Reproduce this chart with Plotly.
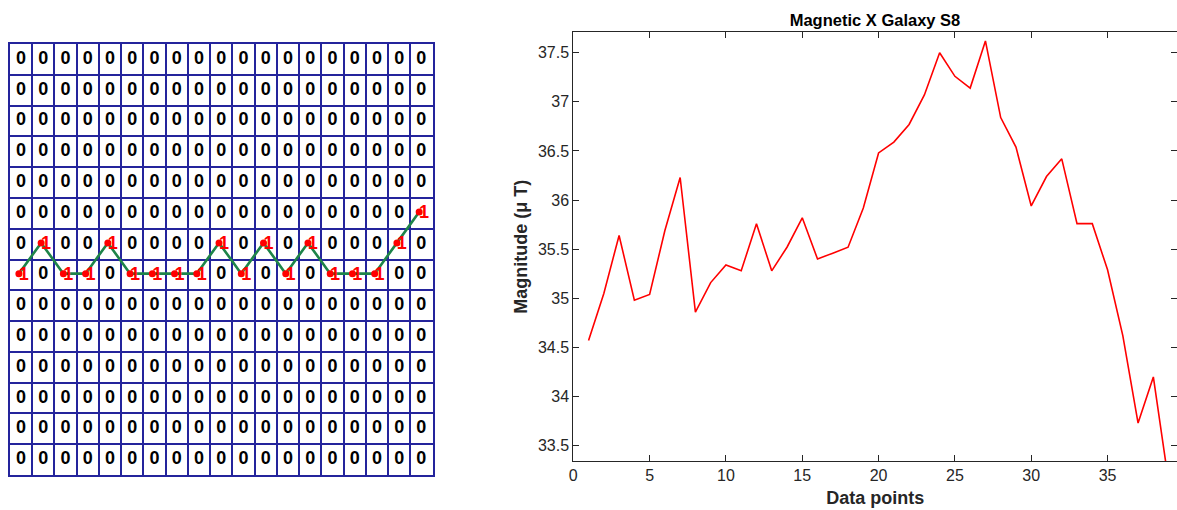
import plotly.graph_objects as go

# ---------------- data ----------------
n_cols = 19
n_rows = 14
# row (0 = top) holding the "1" in each column
one_rows = [7, 6, 7, 7, 6, 7, 7, 7, 7, 6, 7, 6, 7, 6, 7, 7, 7, 6, 5]

data_points = list(range(1, 40))
magnitude = [34.57, 35.05, 35.64, 34.98, 35.04, 35.69, 36.23, 34.86, 35.16, 35.34,
             35.28, 35.76, 35.28, 35.52, 35.82, 35.40, 35.46, 35.52, 35.92, 36.48,
             36.59, 36.77, 37.07, 37.50, 37.26, 37.14, 37.62, 36.84, 36.54, 35.94,
             36.24, 36.42, 35.76, 35.76, 35.29, 34.62, 33.73, 34.20, 33.13]
y_ticks = [33.5, 34, 34.5, 35, 35.5, 36, 36.5, 37, 37.5]
y_tick_text = ["33.5", "34", "34.5", "35", "35.5", "36", "36.5", "37", "37.5"]
x_ticks = [0, 5, 10, 15, 20, 25, 30, 35]

# ---------------- figure ----------------
W, H = 1177, 510
fig = go.Figure()

zx, zy = [], []
for c in range(n_cols):
    for r in range(n_rows):
        if one_rows[c] != r:
            zx.append(c + 0.5)
            zy.append(r + 0.5)

fig.add_trace(go.Scatter(
    x=zx, y=zy, mode="text", text=["0"] * len(zx),
    textfont=dict(family="Liberation Sans", size=18, color="black", weight="bold"),
    xaxis="x", yaxis="y", showlegend=False, hoverinfo="skip"))

# path line + dots
px = [c + 0.4 for c in range(n_cols)]
py = [r + 0.46 for r in one_rows]
fig.add_trace(go.Scatter(
    x=px, y=py, mode="lines",
    line=dict(color="#1e8449", width=2.6),
    xaxis="x", yaxis="y", showlegend=False, hoverinfo="skip"))
fig.add_trace(go.Scatter(
    x=px, y=py, mode="markers",
    marker=dict(color="red", size=7),
    xaxis="x", yaxis="y", showlegend=False, hoverinfo="skip"))
fig.add_trace(go.Scatter(
    x=[c + 0.62 for c in range(n_cols)], y=[r + 0.52 for r in one_rows],
    mode="text", text=["1"] * n_cols,
    textfont=dict(family="Liberation Sans", size=18, color="red", weight="bold"),
    xaxis="x", yaxis="y", showlegend=False, hoverinfo="skip"))

# right line chart
fig.add_trace(go.Scatter(
    x=data_points, y=magnitude, mode="lines",
    line=dict(color="#ff0000", width=1.6),
    xaxis="x2", yaxis="y2", showlegend=False))

grid_blue = "#24249c"
axis_col = "#262626"
font_fam = "Liberation Sans, Arial, sans-serif"

fig.update_layout(
    width=W, height=H,
    margin=dict(l=0, r=0, t=0, b=0),
    paper_bgcolor="white", plot_bgcolor="white",
    font=dict(family=font_fam, color=axis_col),
    xaxis=dict(domain=[10 / W, 432.5 / W], range=[0, n_cols],
               tickmode="linear", tick0=0, dtick=1, showticklabels=False, ticks="",
               showgrid=True, gridcolor=grid_blue, gridwidth=1.5, zeroline=False,
               showline=True, linecolor=grid_blue, linewidth=1.5, mirror=True,
               fixedrange=True, automargin=False),
    yaxis=dict(domain=[(H - 475) / H, (H - 44) / H], range=[n_rows, 0],
               tickmode="linear", tick0=0, dtick=1, showticklabels=False, ticks="",
               showgrid=True, gridcolor=grid_blue, gridwidth=1.5, zeroline=False,
               showline=True, linecolor=grid_blue, linewidth=1.5, mirror=True,
               fixedrange=True, automargin=False),
    xaxis2=dict(domain=[573.3 / W, 1.0], range=[0, 39.55], anchor="y2",
                tickvals=x_ticks, ticktext=[str(v) for v in x_ticks],
                ticks="inside", ticklen=6, tickcolor=axis_col, tickwidth=1,
                showline=True, linecolor=axis_col, linewidth=1, mirror="ticks",
                showgrid=False, zeroline=False,
                tickfont=dict(size=16, color=axis_col, family=font_fam),
                title=dict(text="<b>Data points</b>", standoff=8,
                           font=dict(size=18, color=axis_col, family=font_fam)),
                automargin=False),
    yaxis2=dict(domain=[(H - 461) / H, (H - 32.3) / H], range=[33.344, 37.708], anchor="x2",
                tickvals=y_ticks, ticktext=y_tick_text,
                ticks="inside", ticklen=6, tickcolor=axis_col, tickwidth=1,
                showline=True, linecolor=axis_col, linewidth=1, mirror="ticks",
                showgrid=False, zeroline=False,
                tickfont=dict(size=16, color=axis_col, family=font_fam),
                title=dict(text="<b>Magnitude (μ T)</b>", standoff=5,
                           font=dict(size=18, color=axis_col, family=font_fam)),
                automargin=False),
    title=dict(text="<b>Magnetic X Galaxy S8</b>", x=875 / W, xanchor="center",
               y=1 - 20 / H, yanchor="middle", xref="paper", yref="paper",
               font=dict(size=16.5, color="black", family=font_fam)),
)

fig.write_html("out.html")
